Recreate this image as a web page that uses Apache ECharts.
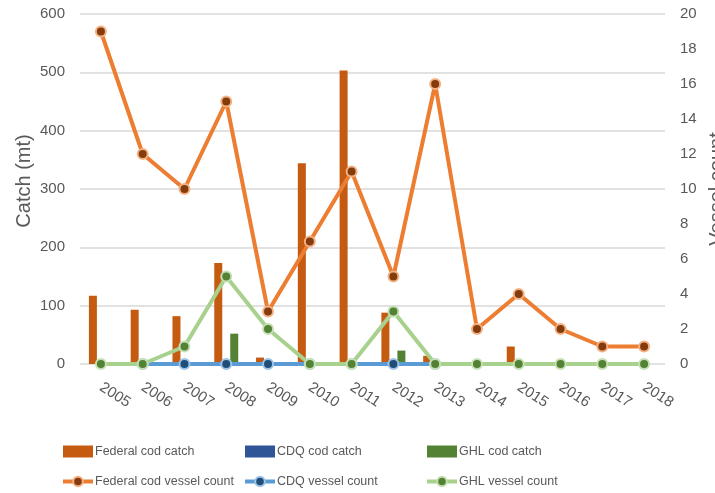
<!DOCTYPE html>
<html><head><meta charset="utf-8">
<script src="https://cdn.jsdelivr.net/npm/echarts@6/dist/echarts.min.js"></script>
<style>html,body{margin:0;padding:0;background:#fff}#c{width:715px;height:493px}</style>
</head><body><div id="c"></div>
<script>
const years = ['2005','2006','2007','2008','2009','2010','2011','2012','2013','2014','2015','2016','2017','2018'];
const federalCatch = [117, 93, 82, 173, 11, 344, 503, 88, 14, 0, 30, 0, 0, 0];
const cdqCatch = [0, 0, 0, 0, 0, 0, 0, 0, 0, 0, 0, 0, 0, 0];
const ghlCatch = [0, 0, 0, 52, 0, 0, 0, 23, 0, 0, 0, 0, 0, 0];
const federalVessels = [19, 12, 10, 15, 3, 7, 11, 5, 16, 2, 4, 2, 1, 1];
const cdqVessels = [null, 0, 0, 0, 0, 0, 0, 0, 0, null, null, null, null, null];
const ghlVessels = [0, 0, 1, 5, 2, 0, 0, 3, 0, 0, 0, 0, 0, 0];
const catchTicks = [0, 600, 100];
const vesselTicks = [0, 20, 2];

const FONT = '"Liberation Sans",Arial,sans-serif';
const GREY = '#595959';
const chart = echarts.init(document.getElementById('c'));
function lineSeries(name, data, lc, fill, border) {
  return {name, type: 'line', yAxisIndex: 1, data, connectNulls: false,
    symbol: 'circle', symbolSize: 10,
    lineStyle: {color: lc, width: 4},
    itemStyle: {color: fill, borderColor: border, borderWidth: 2},
    emphasis: {disabled: true}, z: 3};
}
function barSeries(name, data, c) {
  return {name, type: 'bar', data, barWidth: 8, barGap: '0%',
    itemStyle: {color: c}, emphasis: {disabled: true}};
}
const legendBase = {orient: 'vertical', top: 440, height: 60, itemGap: 17, itemWidth: 30, itemHeight: 12,
  lineStyle: {width: 4},
  textStyle: {color: GREY, fontSize: 12.5, fontFamily: FONT, padding: [0, 0, 0, -3]}, selectedMode: false};
chart.setOption({
  animation: false,
  grid: {left: 80, right: 50, top: 14, bottom: 129, outerBoundsMode: 'none', containLabel: false},
  legend: [
    Object.assign({}, legendBase, {left: 56, data: [{name: 'Federal cod catch', icon: 'rect'}, 'Federal cod vessel count']}),
    Object.assign({}, legendBase, {left: 238, data: [{name: 'CDQ cod catch', icon: 'rect'}, 'CDQ vessel count']}),
    Object.assign({}, legendBase, {left: 420, data: [{name: 'GHL cod catch', icon: 'rect'}, 'GHL vessel count']})
  ],
  xAxis: {type: 'category', data: years,
    axisLine: {show: false}, axisTick: {show: false},
    axisLabel: {rotate: -33, color: GREY, fontSize: 15, fontFamily: FONT, margin: 22}},
  yAxis: [
    {type: 'value', min: catchTicks[0], max: catchTicks[1], interval: catchTicks[2],
      name: 'Catch (mt)', nameLocation: 'middle', nameGap: 46, nameMoveOverlap: false,
      nameTextStyle: {color: GREY, fontSize: 20, fontFamily: FONT, padding: [0, 0, 0, 16]},
      axisLabel: {color: GREY, fontSize: 15, fontFamily: FONT, margin: 15},
      splitLine: {lineStyle: {color: '#D9D9D9', width: 1.5}}},
    {type: 'value', min: vesselTicks[0], max: vesselTicks[1], interval: vesselTicks[2],
      name: 'Vessel count', nameLocation: 'middle', nameGap: 42, nameMoveOverlap: false,
      nameTextStyle: {color: GREY, fontSize: 20, fontFamily: FONT},
      axisLabel: {color: GREY, fontSize: 15, fontFamily: FONT, margin: 15},
      splitLine: {show: false}}
  ],
  series: [
    barSeries('Federal cod catch', federalCatch, '#C55A11'),
    barSeries('CDQ cod catch', cdqCatch, '#2F5597'),
    barSeries('GHL cod catch', ghlCatch, '#548235'),
    lineSeries('Federal cod vessel count', federalVessels, '#ED7D31', '#843C0C', '#F4B183'),
    lineSeries('CDQ vessel count', cdqVessels, '#5B9BD5', '#1F4E79', '#9DC3E6'),
    lineSeries('GHL vessel count', ghlVessels, '#A9D18E', '#548235', '#C5E0B4')
  ]
});
</script></body></html>
